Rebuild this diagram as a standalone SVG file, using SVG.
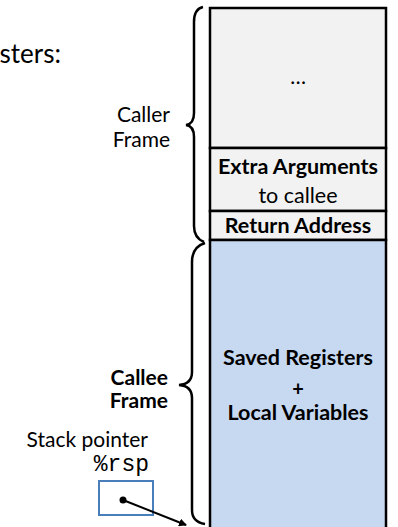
<svg xmlns="http://www.w3.org/2000/svg" width="398" height="527" viewBox="0 0 398 527">
<style>
.t{font-family:Lato,"Open Sans","Liberation Sans",sans-serif;fill:#000}
.b{font-weight:bold}
.cell{stroke:#000;stroke-width:2.5}
.gray{fill:#f2f2f2}
.blue{fill:#c6d9f0}
.brace{fill:none;stroke:#000;stroke-width:2.5}
.mono{font-family:"Liberation Mono","Courier New",monospace}
</style>
<defs>
<marker id="ah" markerWidth="8" markerHeight="8" refX="7" refY="4" orient="auto" markerUnits="userSpaceOnUse">
<path d="M0,0 L8,4 L0,8 z" fill="#000"/>
</marker>
</defs>
<text class="t" x="61" y="63" font-size="26" text-anchor="end">sters:</text>
<g id="cell-dots">
<rect class="cell gray" x="210" y="8" width="176" height="140"/>
<text class="t" x="298" y="84" font-size="21" text-anchor="middle">…</text>
</g>
<g id="cell-extra">
<rect class="cell gray" x="210" y="148" width="176" height="63"/>
<text class="t b" x="298" y="174" font-size="21.5" text-anchor="middle">Extra Arguments</text>
<text class="t" x="298" y="203" font-size="21.5" text-anchor="middle">to callee</text>
</g>
<g id="cell-ret">
<rect class="cell gray" x="210" y="211" width="176" height="29"/>
<text class="t b" x="298" y="233" font-size="21.5" text-anchor="middle">Return Address</text>
</g>
<g id="cell-saved">
<rect class="cell blue" x="210" y="240" width="176" height="292"/>
<text class="t b" x="298" y="365" font-size="21.5" text-anchor="middle">Saved Registers</text>
<text class="t b" x="298" y="396" font-size="20" text-anchor="middle">+</text>
<text class="t b" x="298" y="420" font-size="21.5" text-anchor="middle">Local Variables</text>
</g>
<g id="caller-brace">
<path class="brace" d="M203,7 Q194,9 194,22 L194,113 Q194,124 186,125 Q194,126 194,137 L194,226 Q194,238 204,242"/>
<text class="t" x="170" y="122" font-size="21" text-anchor="end">Caller</text>
<text class="t" x="170" y="147" font-size="21" text-anchor="end">Frame</text>
</g>
<g id="callee-brace">
<path class="brace" d="M205,243 Q192,247 192,262 L192,372 Q192,384 179,385 Q192,386 192,398 L192,510 Q192,522 205,524"/>
<text class="t b" x="168" y="385" font-size="21" text-anchor="end">Callee</text>
<text class="t b" x="168" y="408" font-size="21" text-anchor="end">Frame</text>
</g>
<g id="rsp">
<text class="t" x="148" y="447" font-size="21" text-anchor="end">Stack pointer</text>
<text class="mono" x="149" y="471" font-size="23" text-anchor="end">%rsp</text>
<rect x="99" y="481" width="54" height="34" fill="none" stroke="#4a7ebb" stroke-width="2"/>
</g>
<g id="connectors">
<circle cx="123" cy="500" r="3.5" fill="#000"/>
<line x1="123" y1="500" x2="186" y2="525" stroke="#000" stroke-width="2" marker-end="url(#ah)"/>
</g>
</svg>
